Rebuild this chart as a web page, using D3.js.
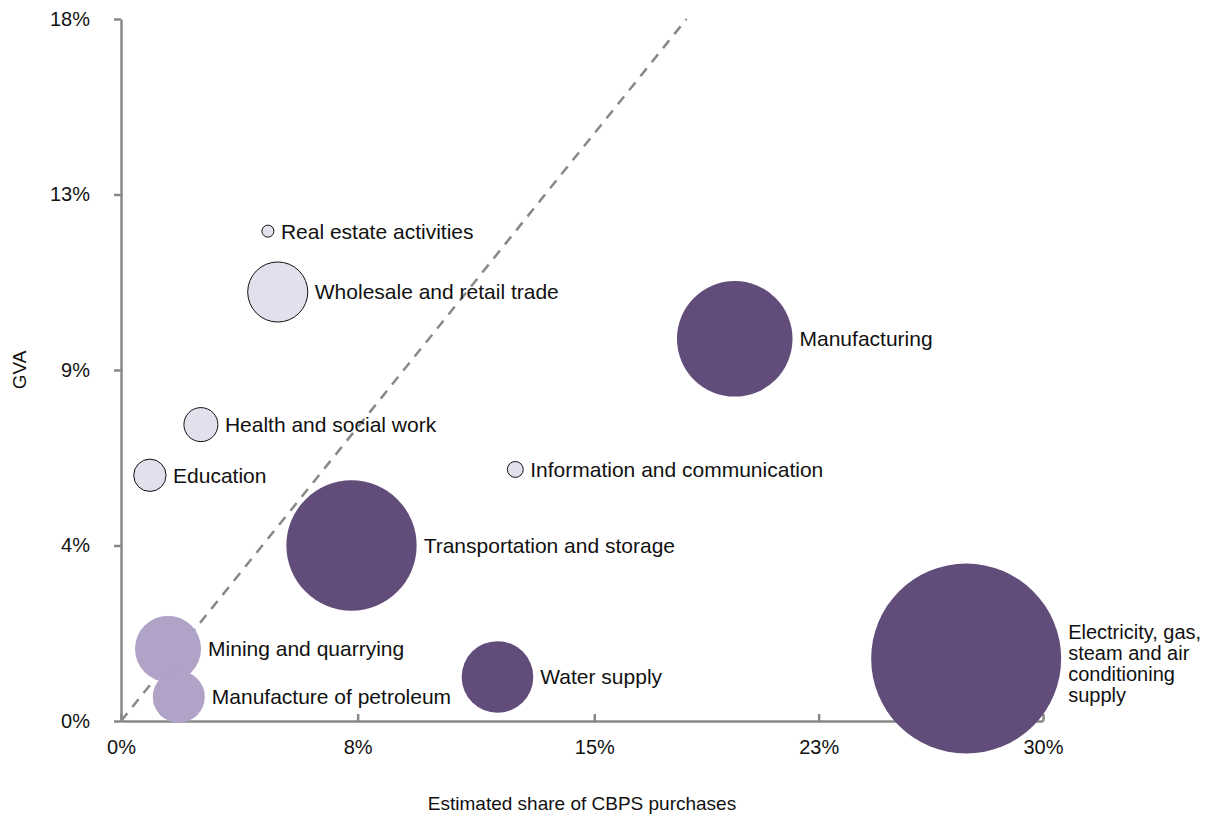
<!DOCTYPE html>
<html>
<head>
<meta charset="utf-8">
<script src="https://cdn.jsdelivr.net/npm/d3@7"></script>
<style>
    body { margin: 0; background: #fff; }
    svg text { font-family: "Liberation Sans", Arial, Helvetica, sans-serif; fill: #111; }
</style>
</head>
<body>
<svg id="chart" width="1205" height="816"></svg>
<script>
    // sectors
    const sectors = [
        "Real estate activities",
        "Wholesale and retail trade",
        "Manufacturing",
        "Health and social work",
        "Education",
        "Information and communication",
        "Transportation and storage",
        "Mining and quarrying",
        "Manufacture of petroleum",
        "Water supply",
        "Electricity, gas, steam and air conditioning supply"
    ];
    // estimated share of CBPS purchases (%)
    const cbpsShare = [4.78, 5.1, 19.97, 2.6, 0.94, 12.83, 7.5, 1.53, 1.88, 12.25, 27.5];
    // GVA (%)
    const gva = [12.56, 11.0, 9.8, 7.6, 6.3, 6.45, 4.5, 1.85, 0.62, 1.13, 1.6];
    // bubble size
    const bubbleSize = [0.4, 10, 37, 3.2, 2.9, 0.7, 47, 12.1, 7.5, 14.2, 100];
    // group (shade)
    const group = ["low", "low", "high", "low", "low", "low", "high", "mid", "mid", "high", "high"];

    const xTickValues = [0, 7.7, 15.4, 22.7, 30];
    const xTickLabels = ["0%", "8%", "15%", "23%", "30%"];
    const yTickValues = [0, 4.5, 9, 13.5, 18];
    const yTickLabels = ["0%", "4%", "9%", "13%", "18%"];
    const refLine = [[0, 0], [18.4, 18]];

    (function () {
        const svg = d3.select("#chart");
        const plotLeft = 121, plotRight = 1043, plotTop = 19, plotBottom = 721;

        const x = d3.scaleLinear().domain([0, 30]).range([plotLeft, plotRight]);
        const y = d3.scaleLinear().domain([0, 18]).range([plotBottom, plotTop]);
        const r = d3.scaleSqrt().domain([0, 100]).range([0, 95]);
        const color = d3.scaleOrdinal()
            .domain(["high", "mid", "low"])
            .range(["#614c7a", "#b1a2c7", "#e3e0ee"]);

        const data = sectors.map((name, i) => ({
            name: name, x: cbpsShare[i], y: gva[i], size: bubbleSize[i], group: group[i]
        }));

        // axes
        const xAxis = svg.append("g")
            .attr("transform", `translate(0,${plotBottom})`)
            .call(d3.axisBottom(x).tickValues(xTickValues)
                .tickFormat((d, i) => xTickLabels[i]).tickSizeInner(-7).tickSizeOuter(0).tickPadding(19));
        const yAxis = svg.append("g")
            .attr("transform", `translate(${plotLeft},0)`)
            .call(d3.axisLeft(y).tickValues(yTickValues)
                .tickFormat((d, i) => yTickLabels[i]).tickSizeInner(7).tickSizeOuter(0).tickPadding(24));

        [xAxis, yAxis].forEach(a => {
            a.select(".domain").attr("stroke", "#888").attr("stroke-width", 2.5);
            a.selectAll(".tick line").attr("stroke", "#888").attr("stroke-width", 2.5);
            a.selectAll(".tick text").style("font-size", "20px").attr("fill", "#111");
        });

        // reference line
        svg.append("path")
            .attr("d", d3.line().x(d => x(d[0])).y(d => y(d[1]))(refLine))
            .attr("stroke", "#888")
            .attr("stroke-width", 2.5)
            .attr("stroke-dasharray", "10,8")
            .attr("fill", "none");

        // bubbles
        svg.append("g").selectAll("circle")
            .data(data)
            .enter()
            .append("circle")
            .attr("cx", d => x(d.x))
            .attr("cy", d => y(d.y))
            .attr("r", d => r(d.size))
            .attr("fill", d => color(d.group))
            .attr("stroke", d => d.group === "low" ? "#111" : "none")
            .attr("stroke-width", 1);

        // labels
        const labels = svg.append("g").selectAll("text")
            .data(data)
            .enter()
            .append("text")
            .attr("x", d => x(d.x) + r(d.size) + 7)
            .attr("y", d => y(d.y))
            .attr("dy", "0.35em")
            .style("font-size", "21px");

        labels.each(function (d) {
            const t = d3.select(this);
            if (d.size >= 100) {
                const lines = ["Electricity, gas,", "steam and air", "conditioning", "supply"];
                t.attr("dy", null).style("font-size", "20px");
                lines.forEach((l, i) => {
                    t.append("tspan")
                        .attr("x", x(d.x) + r(d.size) + 7)
                        .attr("y", y(d.y) - 20 + i * 21)
                        .text(l);
                });
            } else {
                t.text(d.name);
            }
        });

        // axis titles
        svg.append("text")
            .attr("x", (plotLeft + plotRight) / 2)
            .attr("y", 810)
            .attr("text-anchor", "middle")
            .style("font-size", "19px")
            .text("Estimated share of CBPS purchases");

        svg.append("text")
            .attr("transform", `translate(26,${(plotTop + plotBottom) / 2}) rotate(-90)`)
            .attr("text-anchor", "middle")
            .style("font-size", "19px")
            .text("GVA");
    })();
</script>
</body>
</html>
